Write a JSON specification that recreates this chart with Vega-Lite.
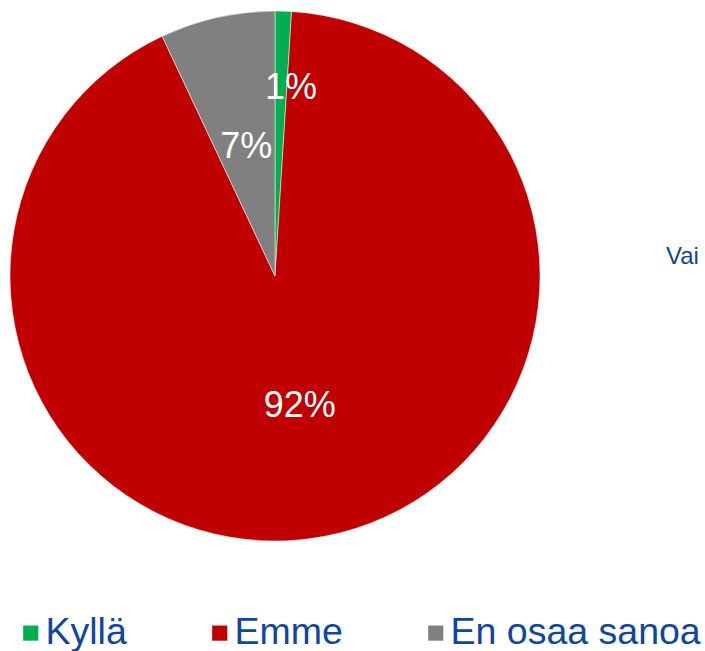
{
  "$schema": "https://vega.github.io/schema/vega-lite/v6.json",
  "width": 530,
  "height": 530,
  "autosize": {"type": "none"},
  "padding": {"left": 10, "top": 11, "right": 165, "bottom": 110},
  "background": "white",
  "data": {"values": [
    {"category": "Kyllä", "value": 1, "label": "1%", "order": 1},
    {"category": "Emme", "value": 92, "label": "92%", "order": 2},
    {"category": "En osaa sanoa", "value": 7, "label": "7%", "order": 3}
  ]},
  "title": {"text": "Vai", "orient": "top", "anchor": "start", "dx": 657, "dy": 263, "fontSize": 24, "font": "Liberation Sans", "fontWeight": "normal", "color": "#1045A0"},
  "encoding": {
    "theta": {"field": "value", "type": "quantitative", "stack": true},
    "order": {"field": "order", "type": "quantitative"}
  },
  "layer": [
    {
      "mark": {"type": "arc", "outerRadius": 265, "stroke": "white", "strokeWidth": 0.5},
      "encoding": {
        "color": {
          "field": "category", "type": "nominal",
          "scale": {"domain": ["Kyllä", "Emme", "En osaa sanoa"], "range": ["#00B050", "#C00000", "#808080"]},
          "legend": {
            "title": null, "orient": "none", "legendX": 2, "legendY": 603, "direction": "horizontal",
            "symbolType": "square", "symbolSize": 230, "symbolStrokeWidth": 0, "symbolOpacity": 1,
            "labelFont": "Liberation Sans", "labelFontSize": 37.5, "labelColor": "#1045A0", "labelOffset": -4,
            "columnPadding": 74, "labelLimit": 400
          }
        }
      }
    },
    {
      "mark": {"type": "text", "radius": 132, "fontSize": 36, "font": "Liberation Sans", "color": "white", "align": "center", "baseline": "middle"},
      "encoding": {
        "text": {"condition": {"test": "datum.category === 'Kyllä'", "value": ""}, "field": "label"}
      }
    },
    {
      "mark": {"type": "text", "radius": 188, "dx": 10, "fontSize": 36, "font": "Liberation Sans", "color": "white", "align": "center", "baseline": "middle"},
      "encoding": {
        "text": {"condition": {"test": "datum.category !== 'Kyllä'", "value": ""}, "field": "label"}
      }
    }
  ]
}
